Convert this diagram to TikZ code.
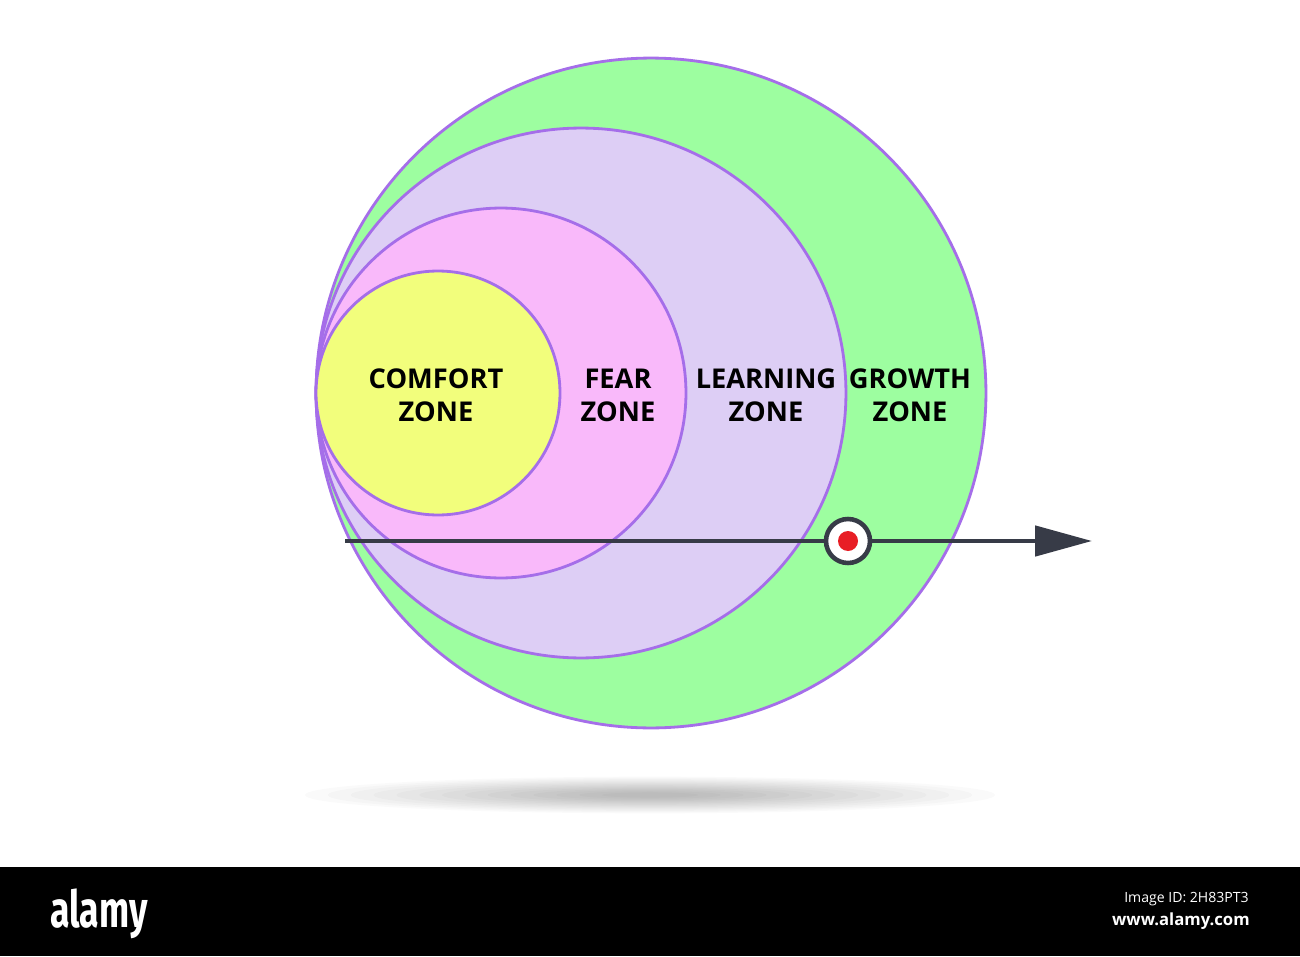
\documentclass[tikz,border=0pt]{standalone}
\usepackage{fontspec}
\setmainfont{Open Sans}
\newfontfamily\stockfont{Fira Sans}
\usetikzlibrary{arrows.meta}

\definecolor{growthgreen}{HTML}{9DFEA0}
\definecolor{learnlilac}{HTML}{DDCEF5}
\definecolor{fearpink}{HTML}{F9B9FA}
\definecolor{comfortyellow}{HTML}{F2FE7C}
\definecolor{zoneline}{HTML}{A56EE9}
\definecolor{trackgray}{HTML}{373B47}
\definecolor{bullred}{HTML}{E81E25}

\begin{document}
\begin{tikzpicture}
[
    x=0.02cm, y=-0.02cm,
    zone/.style={circle, draw=zoneline, line width=1.6pt, inner sep=0pt},
    zonelabel/.style={font=\bfseries\fontsize{15.5}{18.8}\selectfont, align=center, text=black},
    track/.style={draw=trackgray, line width=2.7pt, -{Triangle[length=1.14cm, width=0.6cm]}},
]
\useasboundingbox (0,0) rectangle (1300,956);
\fill[white] (0,0) rectangle (1300,956);

% shadow under the circles
\foreach \k in {1,...,14}
    \fill[black, opacity=0.018] (650,795) ellipse ({320*(1.15-\k/14)} and {17*(1.15-\k/14)});

% the zones
\node[zone, fill=growthgreen, minimum size=13.4cm] (growth) at (651,393) {};
\node[zone, fill=learnlilac, minimum size=10.6cm] (learning) at (581,393) {};
\node[zone, fill=fearpink, minimum size=7.4cm] (fear) at (501,393) {};
\node[zone, fill=comfortyellow, minimum size=4.88cm] (comfort) at (438,393) {};

\node[zonelabel] (comfortlabel) at (436,395) {COMFORT\\ZONE};
\node[zonelabel] (fearlabel) at (618,395) {FEAR\\ZONE};
\node[zonelabel] (learninglabel) at (766,395) {LEARNING\\ZONE};
\node[zonelabel] (growthlabel) at (910,395) {GROWTH\\ZONE};

% the path out
\coordinate (trackstart) at (345,541);
\coordinate (trackend) at (1092,541);
\draw[track] (trackstart) -- (trackend);
\node[circle, draw=trackgray, fill=white, line width=2.6pt, minimum size=0.88cm, inner sep=0pt] (target) at (848,541) {};
\node[circle, fill=bullred, minimum size=0.4cm, inner sep=0pt] (bull) at (target) {};

% stock bar
\fill[black] (0,867) rectangle (1300,956);
\node[anchor=base west, inner sep=0pt, text=white, xscale=0.7,
      font=\stockfont\bfseries\fontsize{29}{29}\selectfont] (brand) at (50,927) {alamy};
\node[anchor=east, inner sep=0pt, text=white, font=\fontsize{8}{8}\selectfont] (imageid) at (1249,899) {Image ID: 2H83PT3};
\node[anchor=east, inner sep=0pt, text=white, font=\bfseries\fontsize{9.5}{9.5}\selectfont] (site) at (1250,921) {www.alamy.com};
\end{tikzpicture}
\end{document}
